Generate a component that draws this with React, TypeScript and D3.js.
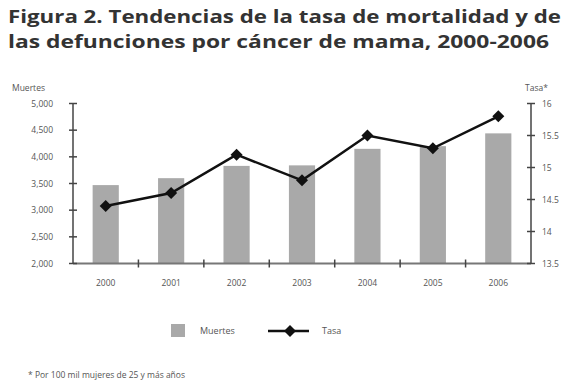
import React from "react";
import * as d3 from "d3";

const years = ["2000", "2001", "2002", "2003", "2004", "2005", "2006"];
const muertes = [3470, 3600, 3830, 3840, 4150, 4200, 4440];
const tasa = [14.4, 14.6, 15.2, 14.8, 15.5, 15.3, 15.8];
const leftTicks = [2000, 2500, 3000, 3500, 4000, 4500, 5000];
const rightTicks = [13.5, 14, 14.5, 15, 15.5, 16];
const titleLines = [
  "Figura 2. Tendencias de la tasa de mortalidad y de",
  "las defunciones por cáncer de mama, 2000-2006",
];

const W = 570;
const H = 383;
const left = 73;
const right = 531;
const top = 103.5;
const bottom = 263.5;
const font = "'Open Sans', 'DejaVu Sans', sans-serif";
const textColor = "#555";

export default function App() {
  const x = d3.scaleBand<string>().domain(years).range([left, right]).paddingInner(0).paddingOuter(0);
  const yL = d3.scaleLinear().domain([2000, 5000]).range([bottom, top]);
  const yR = d3.scaleLinear().domain([13.5, 16]).range([bottom, top]);
  const barW = x.bandwidth() * 0.4;
  const line = d3
    .line<number>()
    .x((_, i) => (x(years[i]) as number) + x.bandwidth() / 2)
    .y((d) => yR(d));
  const fmt = d3.format(",");
  const diamond = (cx: number, cy: number, r: number) =>
    `M${cx},${cy - r}L${cx + r},${cy}L${cx},${cy + r}L${cx - r},${cy}Z`;

  return (
    <svg width={W} height={H} style={{ position: "absolute", left: 0, top: 0, background: "#fff" }}>
      {titleLines.map((t, i) => (
        <text
          key={i}
          x={8}
          y={23 + i * 25}
          fontFamily={font}
          fontWeight="bold"
          fontSize={17.5}
          fill="#333"
          textLength={i === 0 ? 553 : 541}
          lengthAdjust="spacingAndGlyphs"
        >
          {t}
        </text>
      ))}
      <text x={12} y={91} fontFamily={font} fontSize={8.5} fill={textColor}>
        Muertes
      </text>
      <text x={525} y={91} fontFamily={font} fontSize={8.5} fill={textColor}>
        Tasa*
      </text>

      {/* bars */}
      {muertes.map((v, i) => (
        <rect
          key={years[i]}
          x={(x(years[i]) as number) + (x.bandwidth() - barW) / 2}
          y={yL(v)}
          width={barW}
          height={bottom - yL(v)}
          fill="#a9a9a9"
        />
      ))}

      {/* bottom axis */}
      <line x1={left} x2={right} y1={bottom} y2={bottom} stroke="#777" strokeWidth={2} />
      {years.slice(1).map((y) => (
        <line key={y} x1={x(y) as number} x2={x(y) as number} y1={bottom - 4} y2={bottom + 4} stroke="#444" strokeWidth={1.5} />
      ))}
      {years.map((y) => (
        <text
          key={y}
          x={(x(y) as number) + x.bandwidth() / 2}
          y={286}
          textAnchor="middle"
          fontFamily={font}
          fontSize={8.5}
          fill={textColor}
        >
          {y}
        </text>
      ))}

      {/* left axis */}
      <line x1={left} x2={left} y1={top} y2={bottom} stroke="#444" strokeWidth={1.5} />
      {leftTicks.map((t) => (
        <g key={t}>
          <line x1={left - 4} x2={left + 4} y1={yL(t)} y2={yL(t)} stroke="#444" strokeWidth={1.5} />
          <text x={53} y={yL(t) + 3} textAnchor="end" fontFamily={font} fontSize={8.5} fill={textColor}>
            {fmt(t)}
          </text>
        </g>
      ))}

      {/* right axis */}
      <line x1={right} x2={right} y1={top} y2={bottom} stroke="#444" strokeWidth={1.5} />
      {rightTicks.map((t) => (
        <g key={t}>
          <line x1={right - 4} x2={right + 4} y1={yR(t)} y2={yR(t)} stroke="#444" strokeWidth={1.5} />
          <text x={542} y={yR(t) + 3} fontFamily={font} fontSize={8.5} fill={textColor}>
            {String(t)}
          </text>
        </g>
      ))}

      {/* line */}
      <path d={line(tasa) || ""} fill="none" stroke="#111" strokeWidth={2.5} />
      {tasa.map((v, i) => (
        <path key={i} d={diamond((x(years[i]) as number) + x.bandwidth() / 2, yR(v), 6)} fill="#111" />
      ))}

      {/* legend */}
      <rect x={171} y={324} width={14} height={13} fill="#a9a9a9" />
      <text x={200} y={334} fontFamily={font} fontSize={9} fill={textColor}>
        Muertes
      </text>
      <line x1={268} x2={309} y1={331} y2={331} stroke="#111" strokeWidth={2.5} />
      <path d={diamond(290, 331, 6)} fill="#111" />
      <text x={322} y={334} fontFamily={font} fontSize={9} fill={textColor}>
        Tasa
      </text>

      <text x={28} y={378} fontFamily={font} fontSize={8.5} fill={textColor}>
        * Por 100 mil mujeres de 25 y más años
      </text>
    </svg>
  );
}
